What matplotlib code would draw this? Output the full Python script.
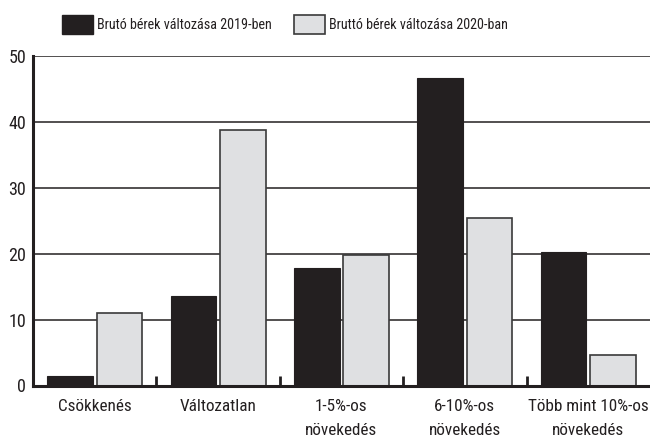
import matplotlib
matplotlib.use("Agg")
import matplotlib.pyplot as plt
import numpy as np
from matplotlib.patches import Patch
from matplotlib import font_manager

names = {f.name for f in font_manager.fontManager.ttflist}
fam = [f for f in ["Liberation Sans Narrow", "Roboto Condensed", "Liberation Sans"] if f in names] + ["DejaVu Sans"]
plt.rcParams['font.family'] = fam

categories = ["Csökkenés", "Változatlan", "1-5%-os\nnövekedés", "6-10%-os\nnövekedés", "Több mint 10%-os\nnövekedés"]
values_2019 = [1.5, 13.6, 17.8, 46.6, 20.2]
values_2020 = [11.0, 38.7, 19.8, 25.4, 4.6]
series_names = ["Brutó bérek változása 2019-ben", "Bruttó bérek változása 2020-ban"]
yticks = [0, 10, 20, 30, 40, 50]

W, H = 650, 437
fig = plt.figure(figsize=(W/100, H/100), dpi=100)
renderer = fig.canvas.get_renderer()

def fit_size(s, target_px, base=12):
    t = fig.text(0, 0, s, fontsize=base)
    w = t.get_window_extent(renderer).width
    t.remove()
    return base * target_px / w

fs_tick = fit_size("Több mint 10%-os", 121)
fs_leg = fit_size(series_names[0], 176)

ax = fig.add_axes([33/W, (H-385.5)/H, (W-33)/W, (385.5-56)/H])

dark = "#231f20"
light = "#dfe0e2"
x = np.arange(len(categories))
ax.bar(x - 0.2, values_2019, width=0.37, color=dark, edgecolor=dark, linewidth=0.8, zorder=3)
ax.bar(x + 0.2, values_2020, width=0.37, color=light, edgecolor="#3a3a3a", linewidth=1.2, zorder=3)

ax.set_xlim(-0.5, len(categories) - 0.5)
ax.set_ylim(0, 50)
ax.set_yticks(yticks)
ax.set_yticklabels([str(v) for v in yticks], fontsize=fs_tick * 1.05, color=dark)
ax.tick_params(axis='y', length=0, pad=5)
ax.set_xticks(x)
ax.set_xticklabels(categories, fontsize=fs_tick, color=dark, linespacing=1.75)
ax.tick_params(axis='x', which='major', length=0, pad=10)
ax.set_xticks(np.arange(len(categories) - 1) + 0.5, minor=True)
ax.tick_params(axis='x', which='minor', direction='in', length=7, width=2, color=dark)

ax.grid(axis='y', color=dark, linewidth=1.1, zorder=0)
ax.set_axisbelow(True)
for s in ["top", "right"]:
    ax.spines[s].set_visible(False)
ax.spines["left"].set_linewidth(2.2)
ax.spines["bottom"].set_linewidth(2.2)
ax.spines["left"].set_color(dark)
ax.spines["bottom"].set_color(dark)
ax.spines["bottom"].set_zorder(5)

px_per_em = fs_leg * 100 / 72
handles = [Patch(facecolor=dark, edgecolor=dark), Patch(facecolor=light, edgecolor="#3a3a3a", linewidth=1.2)]
fig.legend(handles, series_names, loc="center left", bbox_to_anchor=(62/W, 1 - 24.5/H),
           ncol=2, frameon=False, fontsize=fs_leg, handlelength=31/px_per_em, handleheight=23/px_per_em,
           handletextpad=4/px_per_em, columnspacing=22/px_per_em, borderpad=0, borderaxespad=0,
           labelcolor=dark)

fig.savefig("out.png", dpi=100)
